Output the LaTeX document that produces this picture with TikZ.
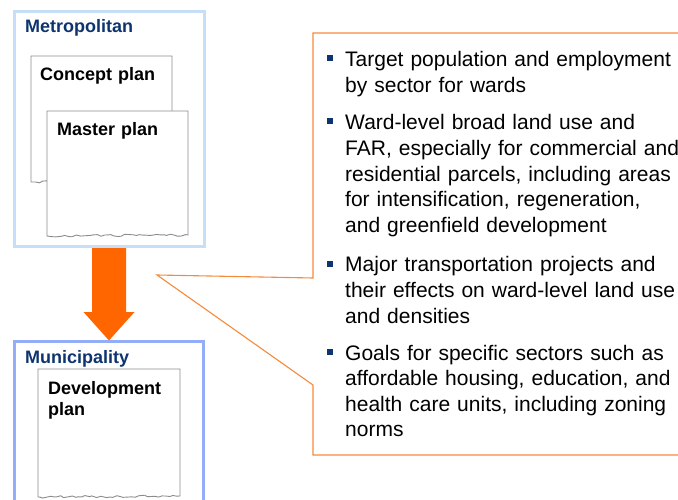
\documentclass[tikz,border=0pt]{standalone}
\usepackage{fontspec}
\setmainfont{Liberation Sans}
\usetikzlibrary{decorations.pathmorphing}
\definecolor{metroframe}{HTML}{C7DEF8}
\definecolor{muniframe}{HTML}{94ADF8}
\definecolor{titleblue}{HTML}{0E3470}
\definecolor{arroworange}{HTML}{FF6600}
\definecolor{callout}{HTML}{F58A3C}
\definecolor{papergray}{HTML}{8C8C8C}
\tikzset{
  frameline/.style={line width=3pt},
  papersheet/.style={draw=papergray, fill=white, line width=0.9pt},
  torn/.style={decoration={random steps, segment length=3.5pt, amplitude=1.1pt}},
  framelabel/.style={anchor=base west, inner sep=0pt, text=titleblue, font=\fontsize{18}{21}\selectfont\bfseries},
  paperlabel/.style={anchor=base west, inner sep=0pt, text=black, text width=140pt, align=left, font=\fontsize{18}{21}\selectfont\bfseries},
  bullettext/.style={anchor=base west, inner sep=0pt, text width=400pt, align=left, font=\fontsize{21}{25.6}\selectfont},
  bulletsq/.style={fill=titleblue, minimum size=6pt, inner sep=0pt, draw=none},
}
\begin{document}
\begin{tikzpicture}[x=1pt, y=-1pt]
\useasboundingbox (0,0) rectangle (678,500);
\clip (0,0) rectangle (678,500);
\pgfmathsetseed{7}
% Metropolitan frame
\draw[frameline, draw=metroframe] (14.5,11.5) rectangle (204,246);
\node[framelabel] (metro) at (25,33) {Metropolitan};
% Concept plan sheet
\draw[papersheet] (31,56) -- (172,56) -- (172,181) decorate[torn]{-- (31,182)} -- cycle;
\node[paperlabel] (concept) at (40,81) {Concept plan};
% Master plan sheet
\draw[papersheet] (47,111) -- (188,111) -- (188,235) decorate[torn]{-- (47,236)} -- cycle;
\node[paperlabel] (master) at (57,136) {Master plan};
% Big arrow
\fill[arroworange] (92,248) -- (126,248) -- (126,312) -- (134.5,312) -- (109,340.5) -- (83.5,312) -- (92,312) -- cycle;
% Municipality frame
\draw[frameline, draw=muniframe] (14.5,341.5) rectangle (203,520);
\node[framelabel] (muni) at (25,363) {Municipality};
% Development plan sheet
\draw[papersheet] (38,369) -- (180,369) -- (180,496) decorate[torn]{-- (38,497)} -- cycle;
\node[paperlabel] (devplan) at (48,394) {Development\\plan};
% Callout
\coordinate (tip) at (157,275);
\draw[callout, line width=1.1pt, line join=miter] (690,33) -- (313,33) -- (313,278) -- (tip) -- (313,385) -- (313,455) -- (690,455);
% Bullets
\node[bulletsq] (b1) at (329.5,58.5) {};
\node[bullettext] (t1) at (345,67) {Target population and employment\\by sector for wards};
\node[bulletsq] (b2) at (329.5,121.5) {};
\node[bullettext] (t2) at (345,130) {Ward-level broad land use and\\FAR, especially for commercial and\\residential parcels, including areas\\for intensification, regeneration,\\and greenfield development};
\node[bulletsq] (b3) at (329.5,263.5) {};
\node[bullettext] (t3) at (345,272) {Major transportation projects and\\their effects on ward-level land use\\and densities};
\node[bulletsq] (b4) at (329.5,351.5) {};
\node[bullettext] (t4) at (345,360) {Goals for specific sectors such as\\affordable housing, education, and\\health care units, including zoning\\norms};
\end{tikzpicture}
\end{document}
